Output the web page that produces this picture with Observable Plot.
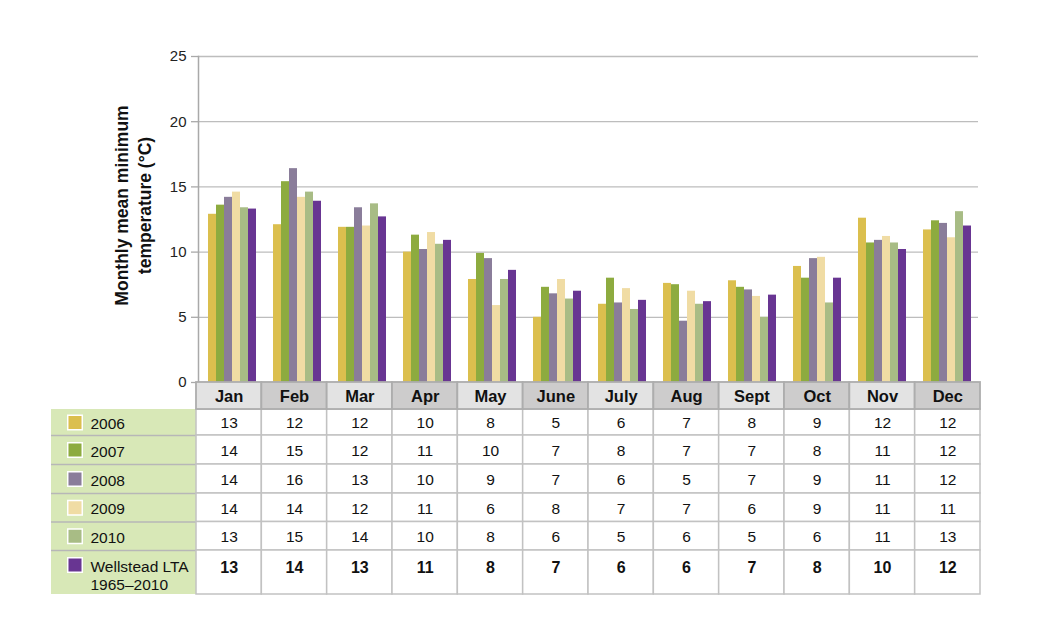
<!DOCTYPE html>
<html>
<head>
<meta charset="utf-8">
<script src="https://cdn.jsdelivr.net/npm/d3@7"></script>
<script src="https://cdn.jsdelivr.net/npm/@observablehq/plot@0.6"></script>
<style>
  body { margin: 0; background: #fff; }
  #wrap { position: relative; width: 1040px; height: 635px; font-family: "Liberation Sans", Arial, Helvetica, sans-serif; }
  #wrap svg { position: absolute; left: 0; overflow: visible; }
</style>
</head>
<body>
<div id="wrap"></div>
<script>
// ---------- data ----------
const months = ["Jan", "Feb", "Mar", "Apr", "May", "June", "July", "Aug", "Sept", "Oct", "Nov", "Dec"];
const seriesNames = ["2006", "2007", "2008", "2009", "2010", "Wellstead LTA 1965–2010"];
const seriesLabels = ["2006", "2007", "2008", "2009", "2010", "Wellstead LTA\n1965–2010"];
const seriesColors = ["#dbbf4e", "#8dab3f", "#8a7d9a", "#f0dca4", "#a8bc85", "#683592"];
const yTicks = [0, 5, 10, 15, 20, 25];

// bar heights (°C)
const bars2006 = [12.9, 12.1, 11.9, 10.0, 7.9, 5.0, 6.0, 7.6, 7.8, 8.9, 12.6, 11.7];
const bars2007 = [13.6, 15.4, 11.9, 11.3, 9.9, 7.3, 8.0, 7.5, 7.3, 8.0, 10.7, 12.4];
const bars2008 = [14.2, 16.4, 13.4, 10.2, 9.5, 6.8, 6.1, 4.7, 7.1, 9.5, 10.9, 12.2];
const bars2009 = [14.6, 14.2, 12.0, 11.5, 5.9, 7.9, 7.2, 7.0, 6.6, 9.6, 11.2, 11.1];
const bars2010 = [13.4, 14.6, 13.7, 10.6, 7.9, 6.4, 5.6, 6.0, 5.0, 6.1, 10.7, 13.1];
const barsLTA  = [13.3, 13.9, 12.7, 10.9, 8.6, 7.0, 6.3, 6.2, 6.7, 8.0, 10.2, 12.0];

// rounded values printed in the table
const table2006 = [13, 12, 12, 10, 8, 5, 6, 7, 8, 9, 12, 12];
const table2007 = [14, 15, 12, 11, 10, 7, 8, 7, 7, 8, 11, 12];
const table2008 = [14, 16, 13, 10, 9, 7, 6, 5, 7, 9, 11, 12];
const table2009 = [14, 14, 12, 11, 6, 8, 7, 7, 6, 9, 11, 11];
const table2010 = [13, 15, 14, 10, 8, 6, 5, 6, 5, 6, 11, 13];
const tableLTA  = [13, 14, 13, 11, 8, 7, 6, 6, 7, 8, 10, 12];

// ---------- layout ----------
const FONT = "'Liberation Sans', Arial, Helvetica, sans-serif";
const W = 1040;
const PLOT_LEFT = 196, PLOT_RIGHT = 980, LEGEND_LEFT = 51;
const CHART_H = 382;
const colW = (PLOT_RIGHT - PLOT_LEFT) / months.length;
const legendUnits = (PLOT_LEFT - LEGEND_LEFT) / colW;

const barSeries = [bars2006, bars2007, bars2008, bars2009, bars2010, barsLTA];
const tableSeries = [table2006, table2007, table2008, table2009, table2010, tableLTA];

const bars = seriesNames.flatMap((s, si) =>
  months.map((m, mi) => ({ month: m, series: s, value: barSeries[si][mi] })));

const wrap = document.getElementById("wrap");

// ---------- bar chart ----------
const chart = Plot.plot({
  width: W,
  height: CHART_H,
  marginTop: 56,
  marginBottom: 0,
  marginLeft: PLOT_LEFT,
  marginRight: W - PLOT_RIGHT,
  style: { fontFamily: FONT, fontSize: "14.5px", color: "#222", background: "transparent", overflow: "visible" },
  fx: { domain: months, padding: 0, axis: null },
  x: { domain: seriesNames, paddingInner: 0.03, paddingOuter: 0.67, align: 0.6, axis: null },
  y: { domain: [0, 25] },
  color: { domain: seriesNames, range: seriesColors },
  marks: [
    Plot.gridY(yTicks, { stroke: "#bdbdbd", strokeOpacity: 1, strokeWidth: 1.3 }),
    Plot.barY(bars, { fx: "month", x: "series", y: "value", fill: "series" }),
    Plot.axisY(yTicks, { tickSize: 7, tickPadding: 5, stroke: "#a9a9a9", strokeWidth: 1.3, label: null, fontSize: 15 }),
    Plot.frame({ anchor: "left", stroke: "#a9a9a9", strokeWidth: 1.5, facetAnchor: "left" }),
    Plot.text(["Monthly mean minimum\ntemperature (°C)"], {
      frameAnchor: "left", textAnchor: "middle", lineAnchor: "middle", rotate: -90, dx: -66, dy: -14,
      fontWeight: "bold", fontSize: 17.5, lineHeight: 1.3, fill: "#111",
      facetAnchor: "left"
    })
  ]
});
chart.style.top = "0px";
wrap.appendChild(chart);

// ---------- data table ----------
const rowH = [27, 26, 29, 29, 28.5, 28.5, 44];
const rowTop = rowH.map((h, i) => d3.sum(rowH.slice(0, i)));
const tableH = d3.sum(rowH);
const lastRow = seriesNames.length - 1;
const rowMid = (si) => si === lastRow ? rowTop[si + 1] + 17 : rowTop[si + 1] + rowH[si + 1] / 2 + 1;

const cells = seriesNames.flatMap((s, si) =>
  months.map((m, mi) => ({ si, mi, v: tableSeries[si][mi] })));

const table = Plot.plot({
  width: W,
  height: tableH + 42,
  marginTop: 2,
  marginBottom: 40,
  marginLeft: LEGEND_LEFT,
  marginRight: W - PLOT_RIGHT,
  style: { fontFamily: FONT, fontSize: "15px", color: "#111", background: "transparent", overflow: "visible" },
  x: { domain: [-legendUnits, months.length], axis: null },
  y: { domain: [0, tableH], range: [2, tableH + 2], axis: null },
  color: { type: "identity" },
  marks: [
    // legend column background
    Plot.rect([0], { x1: -legendUnits, x2: 0, y1: rowTop[1], y2: tableH, fill: "#d8e8b7" }),
    Plot.ruleY(rowTop.slice(2), { x1: -legendUnits, x2: 0, stroke: "#b7b7b7", strokeWidth: 1.5 }),
    // body cells
    Plot.rect(cells, {
      x1: d => d.mi, x2: d => d.mi + 1,
      y1: d => rowTop[d.si + 1], y2: d => rowTop[d.si + 1] + rowH[d.si + 1],
      fill: "white", stroke: "#c2c2c2", strokeWidth: 1.5
    }),
    // header cells
    Plot.rect(months, {
      x1: (d, i) => i, x2: (d, i) => i + 1, y1: 0, y2: rowH[0],
      fill: (d, i) => i % 2 ? "#cdcccc" : "#e3e3e3", stroke: "#adadad", strokeWidth: 1.8
    }),
    Plot.text(months, {
      x: (d, i) => i + 0.5, y: rowH[0] / 2 + 1, text: d => d,
      fontWeight: "bold", fontSize: 16.5, fill: "#111"
    }),
    // yearly values
    Plot.text(cells.filter(d => d.si !== lastRow), {
      x: d => d.mi + 0.5, y: d => rowMid(d.si), text: d => String(d.v),
      fontSize: 15.5, fill: "#111"
    }),
    // long-term average values (bold)
    Plot.text(cells.filter(d => d.si === lastRow), {
      x: d => d.mi + 0.5, y: d => rowMid(d.si), text: d => String(d.v),
      fontWeight: "bold", fontSize: 16, fill: "#111"
    }),
    // legend swatches and labels
    Plot.dot(seriesNames, {
      frameAnchor: "left", dx: 23.5,
      y: (d, i) => i === lastRow ? rowTop[i + 1] + 14.5 : rowMid(i) - 1,
      symbol: "square", r: 8.2, fill: (d, i) => seriesColors[i], stroke: "white", strokeWidth: 1.5
    }),
    Plot.text(seriesNames, {
      frameAnchor: "left", dx: 39, textAnchor: "start", lineAnchor: "middle",
      y: (d, i) => i === lastRow ? rowTop[i + 1] + 25 : rowMid(i),
      text: (d, i) => seriesLabels[i],
      fontSize: 15.5, fill: "#111", lineHeight: 1.12
    })
  ]
});
table.style.top = "380px";
wrap.appendChild(table);
</script>
</body>
</html>
